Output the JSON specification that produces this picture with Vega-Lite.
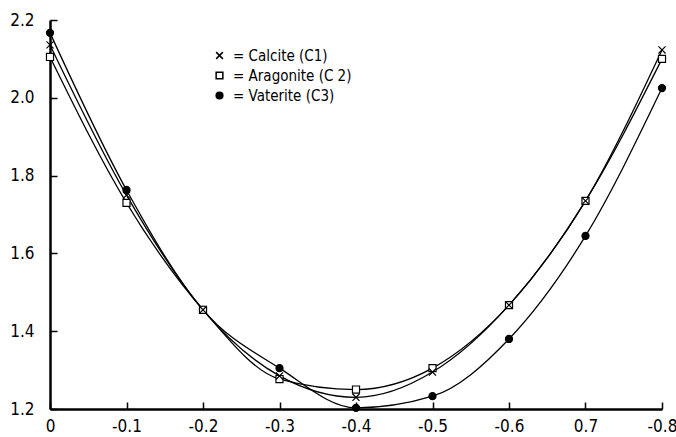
{
  "$schema": "https://vega.github.io/schema/vega-lite/v6.json",
  "width": 612,
  "height": 389,
  "autosize": {"type": "none"},
  "padding": {"left": 50, "top": 20, "right": 14, "bottom": 28},
  "background": "white",
  "config": {
    "view": {"stroke": null},
    "axis": {
      "grid": false,
      "domainColor": "black",
      "domainWidth": 2.5,
      "tickColor": "black",
      "tickWidth": 1.5,
      "tickSize": -7,
      "ticks": true,
      "labelFont": "DejaVu Sans Condensed",
      "labelFontSize": 17,
      "labelColor": "black",
      "title": null
    },
    "legend": {
      "labelFont": "DejaVu Sans Condensed",
      "labelFontSize": 15,
      "labelColor": "black"
    }
  },
  "data": {
    "values": [
      {"series": "Vaterite (C3)", "x": 0, "y": 2.167},
      {"series": "Vaterite (C3)", "x": -0.1, "y": 1.763},
      {"series": "Vaterite (C3)", "x": -0.2, "y": 1.455},
      {"series": "Vaterite (C3)", "x": -0.3, "y": 1.305},
      {"series": "Vaterite (C3)", "x": -0.4, "y": 1.203},
      {"series": "Vaterite (C3)", "x": -0.5, "y": 1.233},
      {"series": "Vaterite (C3)", "x": -0.6, "y": 1.38},
      {"series": "Vaterite (C3)", "x": -0.7, "y": 1.645},
      {"series": "Vaterite (C3)", "x": -0.8, "y": 2.025},
      {"series": "Aragonite (C 2)", "x": 0, "y": 2.105},
      {"series": "Aragonite (C 2)", "x": -0.1, "y": 1.73},
      {"series": "Aragonite (C 2)", "x": -0.2, "y": 1.455},
      {"series": "Aragonite (C 2)", "x": -0.3, "y": 1.277},
      {"series": "Aragonite (C 2)", "x": -0.4, "y": 1.25},
      {"series": "Aragonite (C 2)", "x": -0.5, "y": 1.305},
      {"series": "Aragonite (C 2)", "x": -0.6, "y": 1.467},
      {"series": "Aragonite (C 2)", "x": -0.7, "y": 1.735},
      {"series": "Aragonite (C 2)", "x": -0.8, "y": 2.1},
      {"series": "Calcite (C1)", "x": 0, "y": 2.136},
      {"series": "Calcite (C1)", "x": -0.1, "y": 1.75},
      {"series": "Calcite (C1)", "x": -0.2, "y": 1.455},
      {"series": "Calcite (C1)", "x": -0.3, "y": 1.285},
      {"series": "Calcite (C1)", "x": -0.4, "y": 1.23},
      {"series": "Calcite (C1)", "x": -0.5, "y": 1.295},
      {"series": "Calcite (C1)", "x": -0.6, "y": 1.467},
      {"series": "Calcite (C1)", "x": -0.7, "y": 1.735},
      {"series": "Calcite (C1)", "x": -0.8, "y": 2.123}
    ]
  },
  "encoding": {
    "x": {
      "field": "x",
      "type": "quantitative",
      "scale": {"domain": [0, -0.8], "nice": false, "zero": false},
      "axis": {
        "values": [0, -0.1, -0.2, -0.3, -0.4, -0.5, -0.6, -0.7, -0.8],
        "labelExpr": "datum.value == 0 ? '0' : (abs(datum.value + 0.7) < 0.001 ? '0.7' : '-' + format(-datum.value, '.1f'))",
        "labelPadding": 16,
        "labelFlush": false
      }
    },
    "y": {
      "field": "y",
      "type": "quantitative",
      "scale": {"domain": [1.2, 2.2], "nice": false, "zero": false},
      "axis": {
        "values": [1.2, 1.4, 1.6, 1.8, 2.0, 2.2],
        "format": ".1f",
        "labelPadding": 23
      }
    }
  },
  "layer": [
    {
      "mark": {"type": "line", "interpolate": "monotone", "color": "black", "strokeWidth": 1.3},
      "encoding": {"detail": {"field": "series"}}
    },
    {
      "mark": {"type": "point", "stroke": "black", "strokeWidth": 1.2, "opacity": 1},
      "encoding": {
        "shape": {
          "field": "series",
          "type": "nominal",
          "scale": {
            "domain": ["Calcite (C1)", "Aragonite (C 2)", "Vaterite (C3)"],
            "range": ["M-1,-1L1,1M-1,1L1,-1", "square", "circle"]
          },
          "legend": {
            "orient": "none",
            "legendX": 162,
            "legendY": 28,
            "title": null,
            "symbolSize": 45,
            "rowPadding": 4,
            "labelOffset": 6,
            "labelExpr": "'=  ' + datum.label",
            "encode": {
              "symbols": {
                "update": {
                  "stroke": {"value": "black"},
                  "strokeWidth": {"value": 1.2},
                  "fill": {"signal": "datum.value == 'Vaterite (C3)' ? 'black' : 'white'"},
                  "opacity": {"value": 1}
                }
              }
            }
          }
        },
        "fill": {
          "field": "series",
          "type": "nominal",
          "scale": {
            "domain": ["Calcite (C1)", "Aragonite (C 2)", "Vaterite (C3)"],
            "range": ["black", "white", "black"]
          },
          "legend": null
        },
        "size": {"value": 50}
      }
    }
  ]
}
